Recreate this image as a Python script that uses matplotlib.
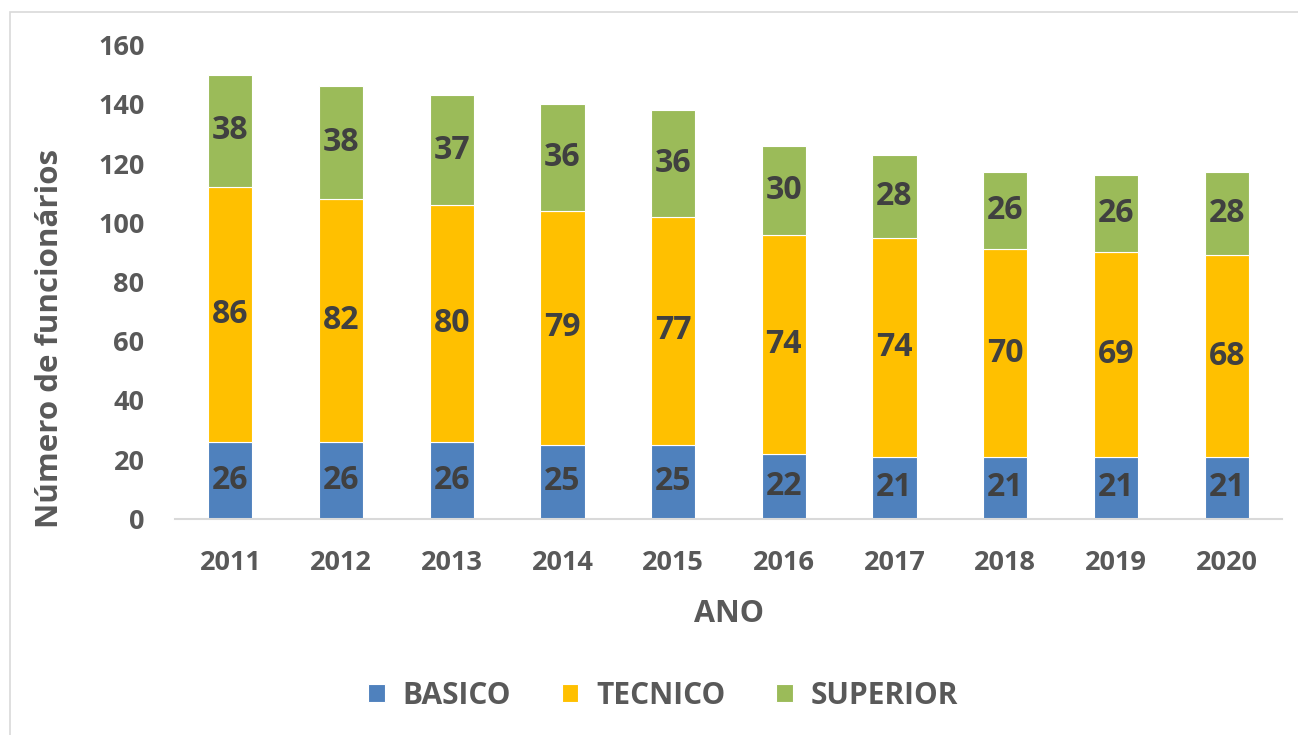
import numpy as np
import matplotlib
matplotlib.use("Agg")
import matplotlib.pyplot as plt
from matplotlib.patches import Rectangle

anos = ["2011", "2012", "2013", "2014", "2015", "2016", "2017", "2018", "2019", "2020"]
basico = [26, 26, 26, 25, 25, 22, 21, 21, 21, 21]
tecnico = [86, 82, 80, 79, 77, 74, 74, 70, 69, 68]
superior = [38, 38, 37, 36, 36, 30, 28, 26, 26, 28]

series = [("BASICO", basico, "#4F81BD"),
          ("TECNICO", tecnico, "#FFC000"),
          ("SUPERIOR", superior, "#9BBB59")]

plt.rcParams["font.family"] = ["Open Sans", "DejaVu Sans"]
plt.rcParams["font.weight"] = "bold"

fig = plt.figure(figsize=(12.98, 7.35), dpi=100)
ax = fig.add_axes([175 / 1298, 1 - 519 / 735, (1282 - 175) / 1298, (519 - 45) / 735])

x = np.arange(len(anos))
bottom = np.zeros(len(anos))
for nome, vals, cor in series:
    vals = np.array(vals)
    bars = ax.bar(x, vals, 0.4, bottom=bottom, color=cor, edgecolor="white",
                  linewidth=0.8, label=nome)
    ax.bar_label(bars, labels=[str(v) for v in vals], label_type="center",
                 fontsize=23, fontweight="bold", color="#404040")
    bottom += vals

ax.set_xlim(-0.5, len(anos) - 0.5)
ax.set_ylim(0, 160)
ax.set_yticks(range(0, 161, 20))
ax.set_xticks(x)
ax.set_xticklabels(anos)
ax.tick_params(axis="both", length=0, labelsize=19.5, labelcolor="#595959")
ax.tick_params(axis="x", pad=22)
ax.tick_params(axis="y", pad=22)
for s in ["top", "right", "left"]:
    ax.spines[s].set_visible(False)
ax.spines["bottom"].set_color("#D9D9D9")
ax.spines["bottom"].set_linewidth(1.5)

ax.set_xlabel("ANO", fontsize=22, fontweight="bold", color="#595959", labelpad=17)
ax.set_ylabel("Número de funcionários", fontsize=22.5, fontweight="bold",
              color="#595959")
ax.yaxis.set_label_coords(-0.099, 0.38)

leg = fig.legend(loc="center", bbox_to_anchor=(0.511, 1 - 696 / 735), ncol=3,
                 frameon=False, fontsize=21.5, handlelength=0.55, handleheight=0.55,
                 columnspacing=1.7, handletextpad=0.6)
for t in leg.get_texts():
    t.set_color("#595959")

fig.patches.append(Rectangle((10 / 1298, -0.02), 1.0, 1 - 12 / 735 + 0.02,
                             transform=fig.transFigure, fill=False,
                             edgecolor="#D9D9D9", linewidth=1.2))

fig.savefig("out.png", dpi=100)
